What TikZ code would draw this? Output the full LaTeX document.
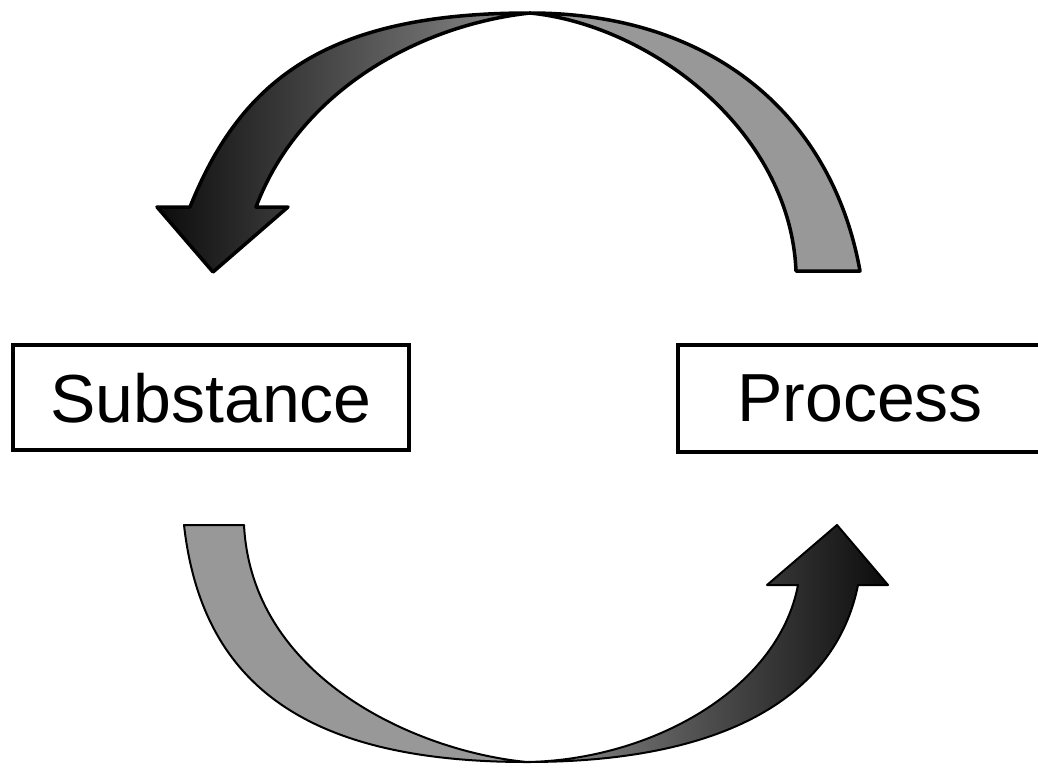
\documentclass[tikz,border=0pt]{standalone}
\usepackage{fontspec}
\setmainfont{Liberation Sans}
\definecolor{bandgray}{RGB}{152,152,152}
\definecolor{darkA}{RGB}{12,12,12}
\definecolor{darkB}{RGB}{142,142,142}
\tikzset{
  labelbox/.style={draw=black, line width=3.5pt, fill=white, inner sep=0pt,
    font=\fontsize{68}{80}\selectfont, text depth=0pt},
  toparrow/.style={draw=black, line width=3.5pt, line join=round},
  botarrow/.style={draw=black, line width=2pt, line join=round}
}
\begin{document}
\begin{tikzpicture}[x=1pt, y=-1pt]
\useasboundingbox (0,0) rectangle (1038,768);
\clip (0,0) rectangle (1038,768);

% top arrow: back (gray) half, right side
\path[toparrow, fill=bandgray]
  (530,13) .. controls (712,13) and (832,115) .. (860,271)
  -- (796,271)
  .. controls (790,130) and (650,25) .. (530,13)
  -- cycle;
% top arrow: front (dark) half with head, left side
\path[toparrow, left color=darkA, right color=darkB]
  (530,13) .. controls (330,13) and (242,77) .. (190,207)
  -- (157,207) -- (213,272) -- (288,207) -- (256,207)
  .. controls (300,90) and (420,25) .. (530,13)
  -- cycle;

% bottom arrow: back (gray) half, left side
\path[botarrow, fill=bandgray]
  (527,762) .. controls (307,762) and (202,685) .. (184,525)
  -- (244,525)
  .. controls (252,680) and (420,752) .. (527,762)
  -- cycle;
% bottom arrow: front (dark) half with head, right side
\path[botarrow, left color=darkB, right color=darkA]
  (527,762) .. controls (727,762) and (836,695) .. (858,585)
  -- (888,585) -- (837,525) -- (767,585) -- (798,585)
  .. controls (778,690) and (650,760) .. (527,762)
  -- cycle;

% boxes
\node[labelbox, minimum width=396pt, minimum height=105pt] (sub) at (211,397.5) {Substance};
\node[labelbox, minimum width=364pt, minimum height=107pt] (proc) at (860,398.5) {Process};
\end{tikzpicture}
\end{document}
